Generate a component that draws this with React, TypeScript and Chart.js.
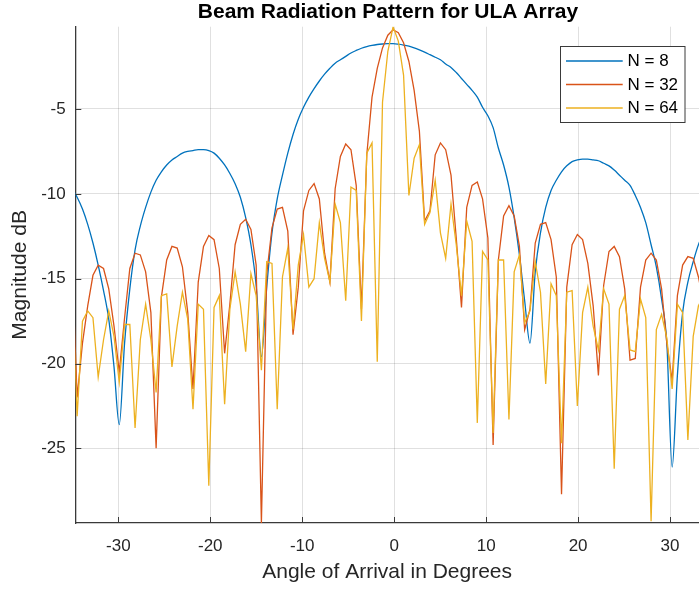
import React, { useEffect, useRef } from "react";
import { Chart, registerables } from "chart.js";

Chart.register(...registerables);

// Angle of arrival (degrees) for each sample
const ANGLES = [
  -35.05, -34.48, -33.9, -33.33, -32.76, -32.19, -31.61, -31.04, -30.47, -29.9,
  -29.32, -28.75, -28.18, -27.61, -27.03, -26.46, -25.89, -25.32, -24.74, -24.17,
  -23.6, -23.03, -22.45, -21.88, -21.31, -20.74, -20.16, -19.59, -19.02, -18.44,
  -17.87, -17.3, -16.73, -16.15, -15.58, -15.01, -14.44, -13.86, -13.29, -12.72,
  -12.15, -11.57, -11.0, -10.43, -9.86, -9.28, -8.71, -8.14, -7.57, -6.99,
  -6.42, -5.85, -5.27, -4.7, -4.13, -3.56, -2.98, -2.41, -1.84, -1.27,
  -0.69, -0.12, 0.45, 1.02, 1.6, 2.17, 2.74, 3.31, 3.89, 4.46,
  5.03, 5.6, 6.18, 6.75, 7.32, 7.89, 8.47, 9.04, 9.61, 10.19,
  10.76, 11.33, 11.9, 12.48, 13.05, 13.62, 14.19, 14.77, 15.34, 15.91,
  16.48, 17.06, 17.63, 18.2, 18.77, 19.35, 19.92, 20.49, 21.06, 21.64,
  22.21, 22.78, 23.36, 23.93, 24.5, 25.07, 25.65, 26.22, 26.79, 27.36,
  27.94, 28.51, 29.08, 29.65, 30.23, 30.8, 31.37, 31.94, 32.52, 33.09,
  33.66,
];

const N8 = [
  -9.7, -10.2, -10.9, -11.8, -12.9, -14.2, -15.7, -17.4, -20.2, -23.6,
  -18.8, -15.6, -13.3, -11.9, -10.8, -9.9, -9.2, -8.7, -8.3, -8.0,
  -7.8, -7.6, -7.5, -7.45, -7.4, -7.4, -7.45, -7.6, -7.9, -8.3,
  -8.8, -9.4, -10.2, -11.4, -13.0, -15.4, -19.6, -15.5, -12.3, -10.3,
  -8.9, -7.6, -6.5, -5.6, -4.9, -4.3, -3.8, -3.35, -2.95, -2.6,
  -2.3, -2.1, -1.9, -1.7, -1.55, -1.42, -1.32, -1.25, -1.2, -1.17,
  -1.15, -1.15, -1.18, -1.23, -1.3, -1.4, -1.52, -1.65, -1.8, -1.95,
  -2.1, -2.35, -2.55, -2.85, -3.2, -3.55, -3.9, -4.3, -4.9, -5.4,
  -6.1, -7.3, -8.3, -9.6, -11.4, -13.6, -16.3, -18.8, -14.6, -12.3,
  -10.8, -9.8, -9.2, -8.7, -8.35, -8.1, -8.0, -7.95, -7.95, -8.0,
  -8.05, -8.2, -8.35, -8.6, -8.9, -9.2, -9.5, -10.1, -10.8, -11.7,
  -13.0, -14.3, -16.2, -18.8, -26.1, -20.7, -17.0, -15.2, -14.0, -13.0,
  -12.3,
];

const N32 = [
  -13.9, -22.0, -18.8, -16.6, -14.8, -14.2, -14.4, -15.6, -17.8, -20.5,
  -17.3, -14.4, -13.5, -13.6, -14.6, -17.0, -25.0, -16.1, -13.9, -13.1,
  -13.2, -14.3, -17.0, -21.5, -15.2, -13.1, -12.45, -12.7, -14.4, -19.4,
  -16.5, -13.0, -11.8, -11.5, -12.1, -14.2, -29.4, -14.7, -12.0, -10.9,
  -10.8, -12.2, -18.3, -15.5, -11.0, -9.8, -9.4, -10.3, -13.5, -15.2,
  -9.7, -7.8, -7.06, -7.4, -9.5, -16.8, -7.7, -4.3, -2.6, -1.4,
  -0.65, -0.33, -0.5, -1.1, -2.2, -3.9, -6.3, -11.6, -11.0, -7.7,
  -7.0, -7.4, -8.9, -12.6, -16.7, -10.8, -9.5, -9.3, -10.3, -12.6,
  -24.8, -13.9, -11.3, -10.7, -11.3, -13.1, -18.0, -16.8, -12.9, -11.8,
  -11.7, -12.7, -14.9, -27.7, -15.5, -13.0, -12.4, -12.7, -14.1, -16.6,
  -20.7, -15.4, -13.4, -13.1, -13.7, -15.6, -19.8, -19.7, -15.5, -13.9,
  -13.5, -13.9, -15.6, -18.8, -21.0, -16.0, -14.2, -13.7, -13.8, -14.9,
  -16.5,
];

const N64 = [
  -15.3, -23.1, -17.5, -16.9, -17.3, -20.8, -18.6, -16.9, -18.4, -21.1,
  -17.7, -17.7, -23.8, -18.6, -16.5, -18.6, -21.7, -16.0, -15.9, -20.2,
  -17.8, -15.8, -17.4, -22.7, -16.5, -16.8, -27.2, -16.7, -16.0, -22.4,
  -16.8, -14.6, -16.5, -19.3, -14.7, -16.0, -20.4, -14.0, -14.1, -22.7,
  -14.9, -13.2, -18.0, -14.2, -12.4, -15.5, -15.0, -11.7, -13.8, -15.2,
  -10.6, -11.7, -16.3, -9.6, -9.8, -17.5, -7.6, -7.0, -19.9, -4.6,
  -1.6, -0.16, -1.0, -3.0, -10.1, -7.9, -7.1, -11.8, -11.1, -9.2,
  -12.3, -13.8, -10.6, -13.0, -16.0, -11.6, -12.8, -23.5, -13.4, -13.9,
  -24.1, -13.9, -13.9, -23.3, -14.6, -13.6, -17.6, -16.9, -14.0, -15.8,
  -21.2, -15.3, -16.0, -24.7, -15.8, -15.7, -22.5, -17.0, -15.5, -17.8,
  -19.2, -15.6, -16.5, -26.2, -16.8, -16.0, -19.2, -19.3, -16.2, -17.3,
  -29.3, -18.0, -17.1, -18.5, -21.5, -16.5, -17.0, -24.5, -18.4, -16.6,
  -16.0,
];

const SERIES_LABELS = ["N = 8", "N = 32", "N = 64"];
const SERIES_COLORS = ["#0072BD", "#D95319", "#EDB120"];
const X_TICKS = [-30, -20, -10, 0, 10, 20, 30];
const Y_TICKS = [-25, -20, -15, -10, -5];
const TITLE = "Beam Radiation Pattern for ULA Array";
const X_LABEL = "Angle of Arrival in Degrees";
const Y_LABEL = "Magnitude dB";

const W = 699;
const H = 589;
const PLOT_LEFT = 75.3;
const PLOT_TOP = 26.7;
const PLOT_BOTTOM = 523;
const FONT = '"Liberation Sans", Arial, Helvetica, sans-serif';
const AXIS_COLOR = "#3a3a3a";
const TEXT_COLOR = "#262626";

export default function App() {
  const ref = useRef<HTMLCanvasElement>(null);

  useEffect(() => {
    const canvas = ref.current;
    if (!canvas) return;

    const overlay = {
      id: "matlabOverlay",
      afterDraw(chart: any) {
        const { ctx, chartArea: ca, scales } = chart;
        ctx.save();
        // inward tick marks
        ctx.strokeStyle = AXIS_COLOR;
        ctx.lineWidth = 1;
        for (const t of X_TICKS) {
          const x = Math.round(scales.x.getPixelForValue(t)) + 0.5;
          ctx.beginPath();
          ctx.moveTo(x, ca.bottom);
          ctx.lineTo(x, ca.bottom - 6);
          ctx.stroke();
        }
        for (const t of Y_TICKS) {
          const y = Math.round(scales.y.getPixelForValue(t)) + 0.5;
          ctx.beginPath();
          ctx.moveTo(ca.left, y);
          ctx.lineTo(ca.left + 6, y);
          ctx.stroke();
        }
        // title
        ctx.fillStyle = "#000";
        ctx.font = `bold 21px ${FONT}`;
        ctx.textAlign = "center";
        ctx.textBaseline = "alphabetic";
        ctx.fillText(TITLE, 388, 17.5);

        // legend
        const lx = 560.5, ly = 46.5, lw = 124.5, lh = 76;
        ctx.fillStyle = "#fff";
        ctx.fillRect(lx, ly, lw, lh);
        ctx.strokeStyle = AXIS_COLOR;
        ctx.lineWidth = 1;
        ctx.strokeRect(lx, ly, lw, lh);
        const rows = [61, 84.5, 108];
        ctx.font = `17px ${FONT}`;
        ctx.textAlign = "left";
        ctx.textBaseline = "middle";
        SERIES_LABELS.forEach((lab, i) => {
          ctx.strokeStyle = SERIES_COLORS[i];
          ctx.lineWidth = 1.3;
          ctx.beginPath();
          ctx.moveTo(566, rows[i]);
          ctx.lineTo(622.7, rows[i]);
          ctx.stroke();
          ctx.fillStyle = "#000";
          ctx.fillText(lab, 627.5, rows[i] + 0.5);
        });
        ctx.restore();
      },
    };

    const seriesValues = [N8, N32, N64];
    const chart = new Chart(canvas, {
      type: "line",
      data: {
        datasets: seriesValues.map((vals, i) => ({
          label: SERIES_LABELS[i],
          data: ANGLES.map((a, j) => ({ x: a, y: vals[j] })),
          borderColor: SERIES_COLORS[i],
          backgroundColor: SERIES_COLORS[i],
          borderWidth: 1.3,
          pointRadius: 0,
          fill: false,
          tension: 0,
          cubicInterpolationMode: i === 0 ? "monotone" : "default",
          order: 3 - i,
        })),
      },
      options: {
        animation: false,
        responsive: false,
        devicePixelRatio: 1,
        layout: { padding: { left: 0, right: 0, top: PLOT_TOP, bottom: 0 } },
        plugins: {
          legend: { display: false },
          tooltip: { enabled: false },
          title: { display: false },
        },
        scales: {
          x: {
            type: "linear",
            min: -34.68,
            max: 33.15,
            afterBuildTicks: (s: any) => {
              s.ticks = X_TICKS.map((v) => ({ value: v }));
            },
            afterFit: (s: any) => {
              s.height = H - PLOT_BOTTOM;
              s.paddingLeft = 0;
              s.paddingRight = 0;
            },
            grid: { color: "rgba(0,0,0,0.12)", lineWidth: 1, drawTicks: false, tickLength: 0 },
            border: { display: true, color: AXIS_COLOR, width: 1.3 },
            ticks: {
              font: { family: FONT, size: 17 },
              color: TEXT_COLOR,
              padding: 13,
              maxRotation: 0,
              autoSkip: false,
            },
            title: {
              display: true,
              text: X_LABEL,
              font: { family: FONT, size: 21 },
              color: TEXT_COLOR,
              padding: { top: 0, bottom: 4 },
            },
          },
          y: {
            type: "linear",
            min: -29.4,
            max: -0.15,
            afterBuildTicks: (s: any) => {
              s.ticks = Y_TICKS.map((v) => ({ value: v }));
            },
            afterFit: (s: any) => {
              s.width = PLOT_LEFT;
              s.paddingTop = 0;
              s.paddingBottom = 0;
            },
            grid: { color: "rgba(0,0,0,0.12)", lineWidth: 1, drawTicks: false, tickLength: 0 },
            border: { display: true, color: AXIS_COLOR, width: 1.3 },
            ticks: {
              font: { family: FONT, size: 17 },
              color: TEXT_COLOR,
              padding: 9.6,
              autoSkip: false,
            },
            title: {
              display: true,
              text: Y_LABEL,
              font: { family: FONT, size: 21 },
              color: TEXT_COLOR,
              padding: { top: 7.5, bottom: 0 },
            },
          },
        },
      },
      plugins: [overlay],
    });

    return () => chart.destroy();
  }, []);

  return (
    <div style={{ position: "absolute", left: 0, top: 0, width: W, height: H, background: "#fff" }}>
      <canvas ref={ref} width={W} height={H} style={{ width: W, height: H, display: "block" }} />
    </div>
  );
}
